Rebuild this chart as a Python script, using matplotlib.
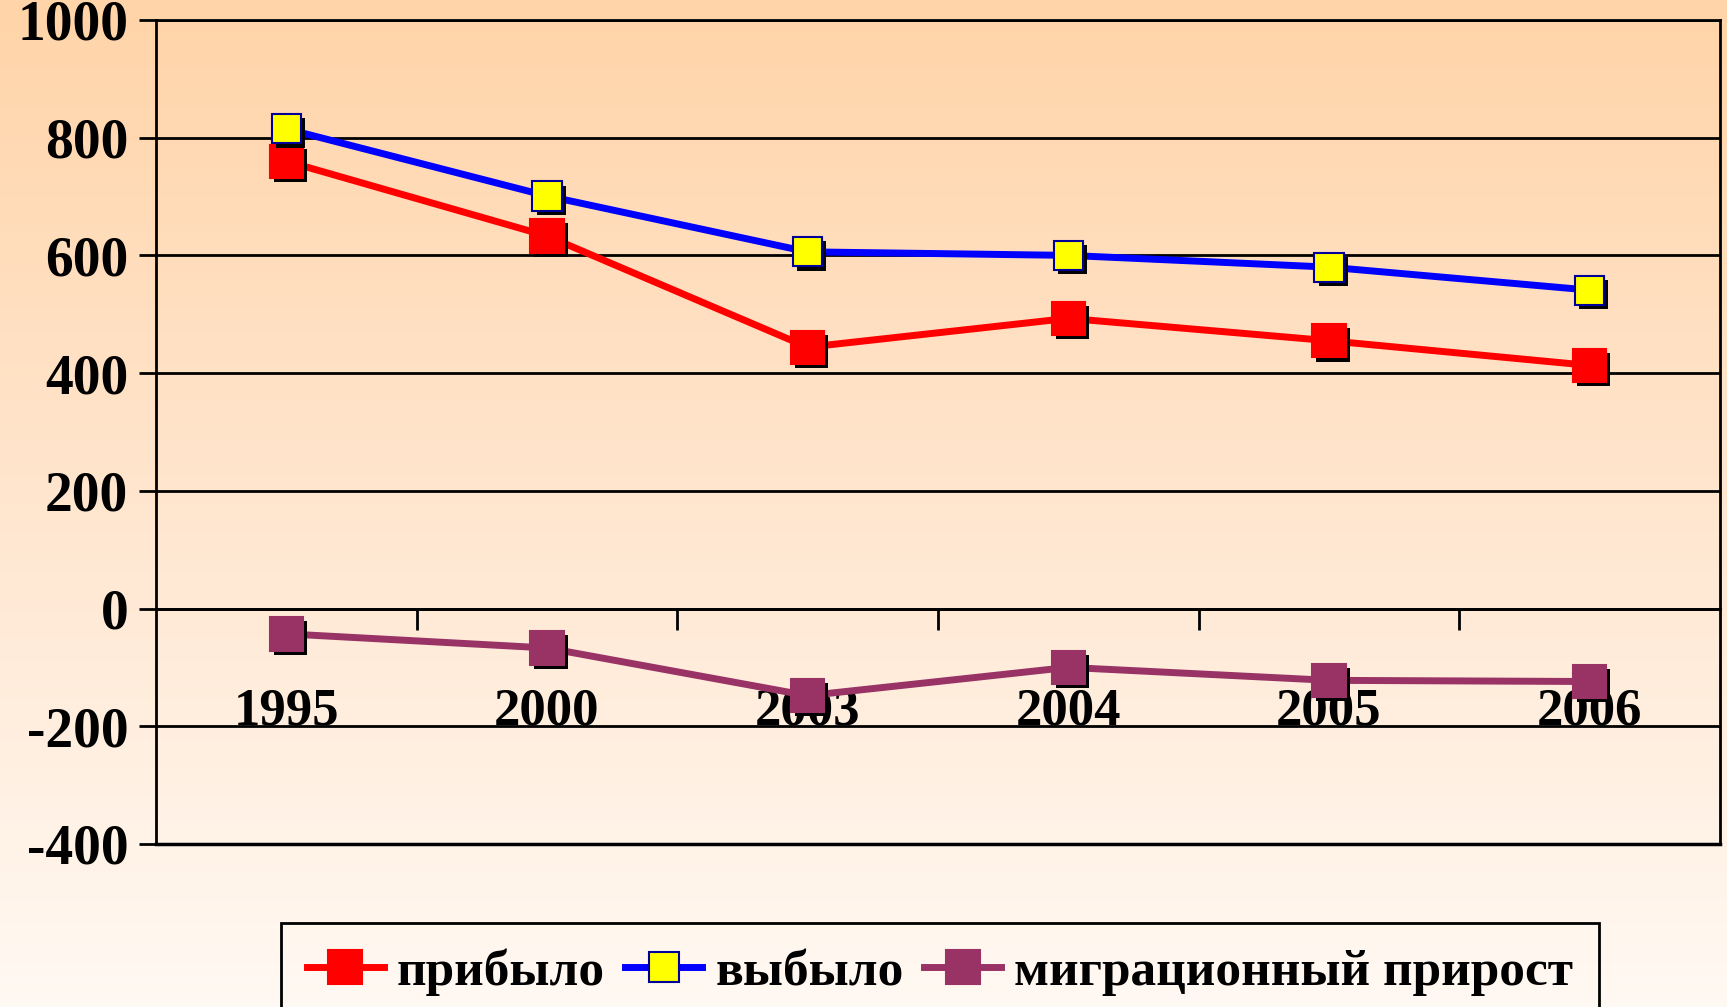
import numpy as np
import matplotlib
matplotlib.use("Agg")
import matplotlib.pyplot as plt
import matplotlib.patheffects as pe
from matplotlib.colors import LinearSegmentedColormap
from matplotlib.lines import Line2D

years = ["1995", "2000", "2003", "2004", "2005", "2006"]
arrived = [760, 633, 444, 493, 455, 413]        # прибыло
departed = [815, 701, 606, 600, 580, 541]       # выбыло
migration = [-43, -67, -148, -100, -122, -124]  # миграционный прирост

labels = ["прибыло", "выбыло", "миграционный прирост"]

plt.rcParams["font.family"] = ["Liberation Serif", "DejaVu Serif"]
plt.rcParams["font.weight"] = "bold"
plt.rcParams["axes.unicode_minus"] = False

fig = plt.figure(figsize=(17.27, 10.07), dpi=100)

# vertical peach gradient behind everything
bg = fig.add_axes([0, 0, 1, 1], zorder=-10)
grad = LinearSegmentedColormap.from_list("peach", ["#FFF9F3", "#FFE6CF", "#FFD4A8"])
bg.imshow(np.linspace(0, 1, 256).reshape(-1, 1), aspect="auto", cmap=grad,
          origin="lower", extent=[0, 1, 0, 1])
bg.axis("off")

ax = fig.add_axes([0.0903, 0.1619, 0.9056, 0.8183])
ax.patch.set_alpha(0)

x = np.arange(len(years))
shadow = [pe.SimplePatchShadow(offset=(3, -3), shadow_rgbFace="black", alpha=1.0), pe.Normal()]

series = [
    (arrived, "#FF0000", "#FF0000", "#FF0000", 24),
    (departed, "#0000FF", "#FFFF00", "#000099", 21),
    (migration, "#993366", "#993366", "#993366", 24),
]
for vals, lc, fc, ec, ms in series:
    ax.plot(x, vals, color=lc, lw=5, zorder=3)
    ax.plot(x, vals, ls="none", marker="s", ms=ms, mfc=fc, mec=ec, mew=1.5,
            zorder=4, path_effects=shadow)

ax.set_xlim(-0.5, len(years) - 0.5)
ax.set_ylim(-400, 1000)
ax.set_yticks(np.arange(-400, 1001, 200))
ax.yaxis.grid(True, color="black", lw=2)
ax.set_axisbelow(True)

ax.spines["bottom"].set_position(("data", 0))
for s in ax.spines.values():
    s.set_linewidth(2)
ax.axhline(-400, color="black", lw=2.5, clip_on=False, zorder=2)

ax.set_xticks(x)
ax.set_xticklabels(years)
ax.set_xticks(np.arange(0.5, len(years) - 1, 1), minor=True)
ax.tick_params(axis="x", which="major", length=0, pad=57, labelsize=38)
ax.tick_params(axis="x", which="minor", direction="out", length=15, width=2)
ax.tick_params(axis="y", direction="out", length=12, width=2, pad=8, labelsize=40)

handles = [Line2D([], [], color=lc, lw=5, marker="s", ms=ms, mfc=fc, mec=ec, mew=1.5)
           for _, lc, fc, ec, ms in series]
leg = fig.legend(handles, labels, loc="upper left", bbox_to_anchor=(0.1627, 0.0834),
                 ncol=3, fontsize=37, frameon=True, fancybox=False,
                 edgecolor="black", facecolor="none", handlelength=1.5,
                 handletextpad=0.25, columnspacing=0.4, borderpad=0.5,
                 borderaxespad=0)
leg.get_frame().set_linewidth(2)
leg.get_frame().set_alpha(None)

fig.savefig("out.png", dpi=100)
